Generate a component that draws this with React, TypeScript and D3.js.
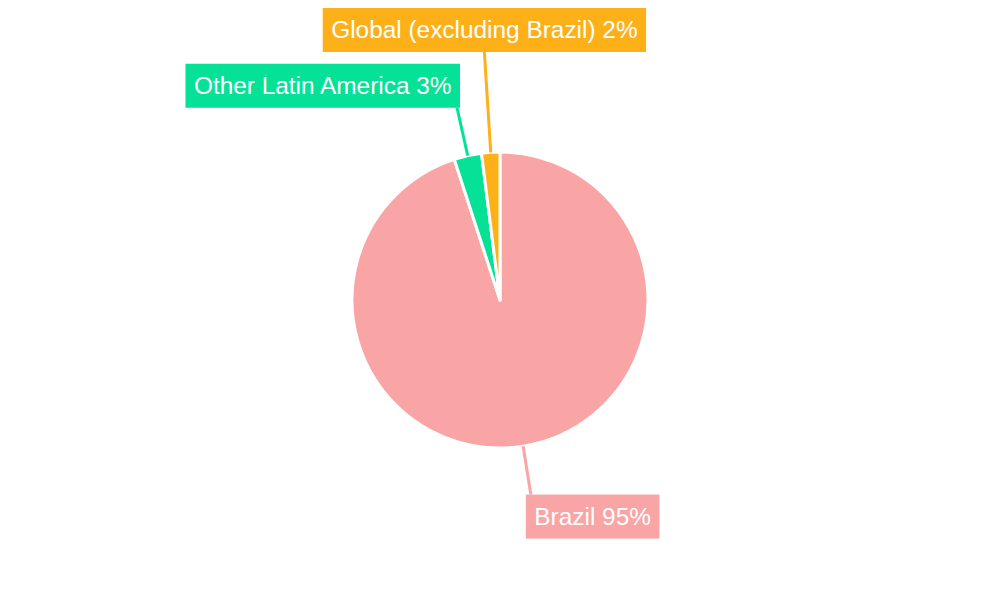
import React, { useEffect, useRef } from "react";
import * as d3 from "d3";

const categories = ["Brazil", "Other Latin America", "Global (excluding Brazil)"];
const values = [95, 3, 2];
const colors = ["#F9A5A6", "#05E196", "#FEB019"];

// label layout: extra radius of leader line end and box alignment
const leaderLen = [49, 49, 100.5];
const boxAlign = ["topLeft", "bottomRight", "bottomCenter"];

const W = 1000;
const H = 600;
const CX = 500;
const CY = 300;
const R = 148;

export default function App() {
  const ref = useRef<SVGSVGElement>(null);

  useEffect(() => {
    const svg = d3.select(ref.current);
    svg.selectAll("*").remove();
    const data = categories.map((c, i) => ({ name: c, value: values[i], i }));
    const pie = d3.pie<any>().value((d) => d.value).sort(null);
    const arcs = pie(data);
    const arc = d3.arc<any>().innerRadius(0).outerRadius(R);
    const g = svg.append("g").attr("transform", `translate(${CX},${CY})`);
    g.selectAll("path")
      .data(arcs)
      .join("path")
      .attr("d", arc as any)
      .attr("fill", (d: any) => colors[d.index])
      .attr("stroke", "#fff")
      .attr("stroke-width", 3)
      .attr("stroke-linejoin", "round");

    arcs.forEach((a: any) => {
      const i = a.index;
      const mid = (a.startAngle + a.endAngle) / 2;
      const sx = Math.sin(mid), sy = -Math.cos(mid);
      const x0 = CX + R * sx, y0 = CY + R * sy;
      const L = R + leaderLen[i];
      const x1 = CX + L * sx, y1 = CY + L * sy;
      svg.append("line")
        .attr("x1", x0).attr("y1", y0).attr("x2", x1).attr("y2", y1)
        .attr("stroke", colors[i]).attr("stroke-width", 3);
      const label = `${categories[i]} ${values[i]}%`;
      const grp = svg.append("g");
      const rect = grp.append("rect").attr("fill", colors[i]);
      const text = grp.append("text")
        .attr("font-family", "Liberation Sans, Arial, sans-serif")
        .attr("font-size", 24.4)
        .attr("fill", "#fff")
        .attr("dominant-baseline", "central")
        .text(label);
      const tw = (text.node() as SVGTextElement).getComputedTextLength();
      const padX = 8.5, bh = 44;
      const bw = tw + padX * 2;
      let bx = 0, by = 0;
      if (boxAlign[i] === "topLeft") { bx = x1 - 5; by = y1; }
      else if (boxAlign[i] === "bottomRight") { bx = x1 + 3 - bw; by = y1 - bh; }
      else { bx = x1 - bw / 2; by = y1 - bh; }
      rect.attr("x", bx).attr("y", by).attr("width", bw).attr("height", bh);
      text.attr("x", bx + padX).attr("y", by + bh / 2);
    });
  }, []);

  return (
    <svg
      ref={ref}
      width={W}
      height={H}
      style={{ position: "absolute", left: 0, top: 0, display: "block" }}
    />
  );
}
